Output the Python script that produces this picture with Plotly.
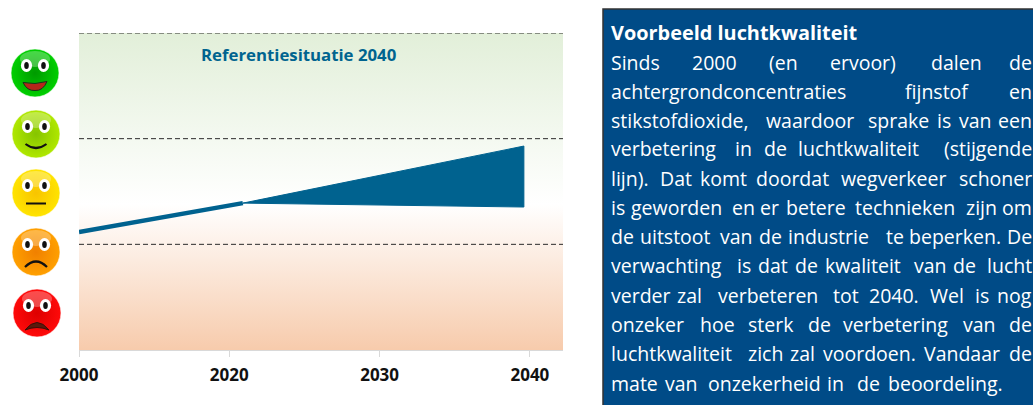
import plotly.graph_objects as go

# ---------- data ----------
year_labels = ["2000", "2020", "2030", "2040"]
year_index = [0, 1, 2, 3]
class_bounds = [1, 2, 3]
trend_x = [0, 1.09]
trend_y = [1.117, 1.39]
range_x = [1.09, 2.96, 2.96, 1.09]
range_y = [1.39, 1.93, 1.353, 1.39]
chart_title = "Referentiesituatie 2040"
box_title = "Voorbeeld luchtkwaliteit"
box_lines = [
    ["Sinds", "2000", "(en", "ervoor)", "dalen", "de"],
    ["achtergrondconcentraties", "fijnstof", "en"],
    ["stikstofdioxide,", "waardoor", "sprake", "is", "van", "een"],
    ["verbetering", "in", "de", "luchtkwaliteit", "(stijgende"],
    ["lijn).", "Dat", "komt", "doordat", "wegverkeer", "schoner"],
    ["is", "geworden", "en", "er", "betere", "technieken", "zijn", "om"],
    ["de", "uitstoot", "van", "de", "industrie", "te", "beperken.", "De"],
    ["verwachting", "is", "dat", "de", "kwaliteit", "van", "de", "lucht"],
    ["verder", "zal", "verbeteren", "tot", "2040.", "Wel", "is", "nog"],
    ["onzeker", "hoe", "sterk", "de", "verbetering", "van", "de"],
    ["luchtkwaliteit", "zich", "zal", "voordoen.", "Vandaar", "de"],
    ["mate", "van", "onzekerheid", "in", "de", "beoordeling."],
]

# ---------- layout constants (pixels of the 1033x405 page) ----------
W, H = 1033, 405
PL, PR, PT, PB = 79, 563, 33, 350
X_MAX = (PR - PL) / 150.3
TEAL = "#00628F"
FONT = "Open Sans"
line_left = [
    [611, 692, 769, 830, 931, 1014],
    [611, 905, 1014],
    [611, 766, 868, 937, 959, 1002],
    [611, 735, 764, 798, 942],
    [611, 660, 700, 756, 841, 961],
    [611, 631, 732, 760, 786, 855, 966, 1005],
    [611, 640, 720, 759, 788, 886, 909, 1012],
    [611, 737, 758, 795, 825, 914, 953, 989],
    [611, 677, 718, 833, 869, 930, 975, 1002],
    [611, 700, 748, 808, 843, 963, 1014],
    [611, 748, 790, 823, 924, 1013],
    [611, 665, 708, 827, 857, 888],
]
line_base = [63, 92, 121, 149.5, 179, 208, 237, 266, 296, 325, 354, 384]

faces = [
    (35, 73, "#00D000", "#009A00"),
    (36, 134, "#B0E800", "#86C400"),
    (36, 193, "#FFE400", "#F8C400"),
    (36, 252, "#FFA000", "#F08000"),
    (37, 313, "#FF0A0A", "#DD0000"),
]

fig = go.Figure()

fig.add_trace(go.Scatter(
    x=[0, X_MAX, X_MAX, 0, 0], y=[0, 0, 3, 3, 0], mode="none", fill="toself",
    fillgradient=dict(type="vertical", colorscale=[
        [0, "#F7CBAC"], [0.46, "#FFFFFF"], [1, "#E2EFD9"]]),
    hoverinfo="skip", showlegend=False))

for b in class_bounds:
    fig.add_trace(go.Scatter(
        x=[0, X_MAX], y=[b, b], mode="lines", cliponaxis=False,
        line=dict(color="#2B2B2B", width=1, dash="5px,3px"),
        hoverinfo="skip", showlegend=False))

fig.add_trace(go.Scatter(x=range_x, y=range_y, mode="lines", fill="toself",
                         fillcolor=TEAL, line=dict(color=TEAL, width=1),
                         hoverinfo="skip", showlegend=False))
fig.add_trace(go.Scatter(x=trend_x, y=trend_y, mode="lines",
                         line=dict(color=TEAL, width=4.5),
                         hoverinfo="skip", showlegend=False))

fx = [f[0] for f in faces]
fy = [f[1] for f in faces]
fig.add_trace(go.Scatter(
    x=fx, y=fy, xaxis="x2", yaxis="y2", mode="markers", hoverinfo="skip", showlegend=False,
    marker=dict(size=48, color=[f[2] for f in faces], opacity=1,
                gradient=dict(type="radial", color=[f[3] for f in faces]),
                line=dict(color="rgba(255,255,255,0.6)", width=1))))
ex, ey = [], []
for x, y, *_ in faces:
    ex += [x - 8.5, x + 8.5]
    ey += [y - 7.5, y - 7.5]

shapes = []
# gloss on the upper half of each face, under the eyes
for x, y, *_ in faces:
    shapes.append(dict(type="circle", xref="x2", yref="y2", layer="above",
                       x0=x - 15, x1=x + 15, y0=y - 22, y1=y - 6,
                       fillcolor="rgba(255,255,255,0.28)", line=dict(width=0)))
# eyes
for x, y in zip(ex, ey):
    shapes.append(dict(type="circle", xref="x2", yref="y2", layer="above",
                       x0=x - 5.6, x1=x + 5.6, y0=y - 6.5, y1=y + 6.5,
                       fillcolor="#FFFFFF", line=dict(width=0)))
    shapes.append(dict(type="circle", xref="x2", yref="y2", layer="above",
                       x0=x - 2.3, x1=x + 2.3, y0=y - 3.5, y1=y + 3.5,
                       fillcolor="#111111", line=dict(width=0)))

def add_path(path, fill=None, line="#111111", width=2):
    shapes.append(dict(type="path", path=path, xref="x2", yref="y2", layer="above",
                       fillcolor=fill if fill else "rgba(0,0,0,0)",
                       line=dict(color=line, width=width)))

def P(*items):
    return " ".join(str(i) for i in items)

(x, y) = faces[0][:2]
add_path(P("M", x-12, y+9.5, "Q", x, y+12, x+12, y+8.5, "Q", x+8, y+18, x, y+17.5, "Q", x-8, y+18, x-12, y+9.5, "Z"),
         fill="#B5261B", line="#15331A", width=1)
(x, y) = faces[1][:2]
add_path(P("M", x-10.5, y+10, "Q", x, y+18, x+10.5, y+10), width=2.2)
(x, y) = faces[2][:2]
add_path(P("M", x-10, y+10.5, "L", x+10, y+10.5), width=2)
(x, y) = faces[3][:2]
add_path(P("M", x-11, y+15, "Q", x, y+4, x+11, y+15), width=2.2)
(x, y) = faces[4][:2]
add_path(P("M", x-12, y+17, "Q", x, y+2, x+12, y+17, "Q", x, y+12, x-12, y+17, "Z"),
         fill="#5A1A0C", line="#3A0E06", width=1)

shapes.insert(0, dict(type="rect", xref="x2", yref="y2", x0=603, x1=1045, y0=9, y1=415,
                      layer="above", fillcolor="#004B87",
                      line=dict(color="#333333", width=1.5)))

ann = [dict(text=chart_title, xref="x2", yref="y2", x=298, y=54, xanchor="center", yanchor="middle",
            showarrow=False, font=dict(family=FONT, size=16.8, color="#00648F", weight="bold"))]
ann.append(dict(text=box_title, xref="x2", yref="y2", x=611, y=33, xanchor="left", yanchor="middle",
                showarrow=False, xshift=-2, yshift=1,
                font=dict(family=FONT, size=19.9, color="#FFFFFF", weight="bold")))
for words, lefts, base in zip(box_lines, line_left, line_base):
    for i, (w, l) in enumerate(zip(words, lefts)):
        last = i == len(words) - 1 and base != line_base[-1]
        ann.append(dict(text=w, xref="x2", yref="y2", x=1033 if last else l, y=base,
                        xanchor="right" if last else "left", yanchor="middle",
                        showarrow=False, borderpad=0, xshift=0 if last else -1.5, yshift=1,
                        font=dict(family=FONT, size=19.5, color="#FFFFFF")))

fig.update_layout(
    template="none",
    width=W, height=H, margin=dict(l=0, r=0, t=0, b=0, pad=0, autoexpand=False),
    paper_bgcolor="#FFFFFF", plot_bgcolor="rgba(0,0,0,0)", showlegend=False,
    shapes=shapes, annotations=ann,
    xaxis=dict(domain=[PL / W, PR / W], range=[0, X_MAX], tickmode="array",
               tickvals=year_index, ticktext=year_labels, showgrid=False, zeroline=False,
               showline=True, linecolor="#D9D9D9", linewidth=1, ticks="outside", ticklen=6,
               tickcolor="#D9D9D9", ticklabelstandoff=4,
               tickfont=dict(family=FONT, size=17, color="#111111", weight="bold"),
               anchor="y", automargin=False),
    yaxis=dict(domain=[1 - PB / H, 1 - PT / H], range=[0, 3], visible=False, anchor="x", automargin=False),
    xaxis2=dict(domain=[0, 1], range=[0, W], visible=False, anchor="y2", automargin=False),
    yaxis2=dict(domain=[0, 1], range=[H, 0], visible=False, anchor="x2", automargin=False),
)

fig.write_html("out.html", config={"displayModeBar": False},
               post_script="document.body.style.margin='0';document.documentElement.style.overflow='hidden';")
